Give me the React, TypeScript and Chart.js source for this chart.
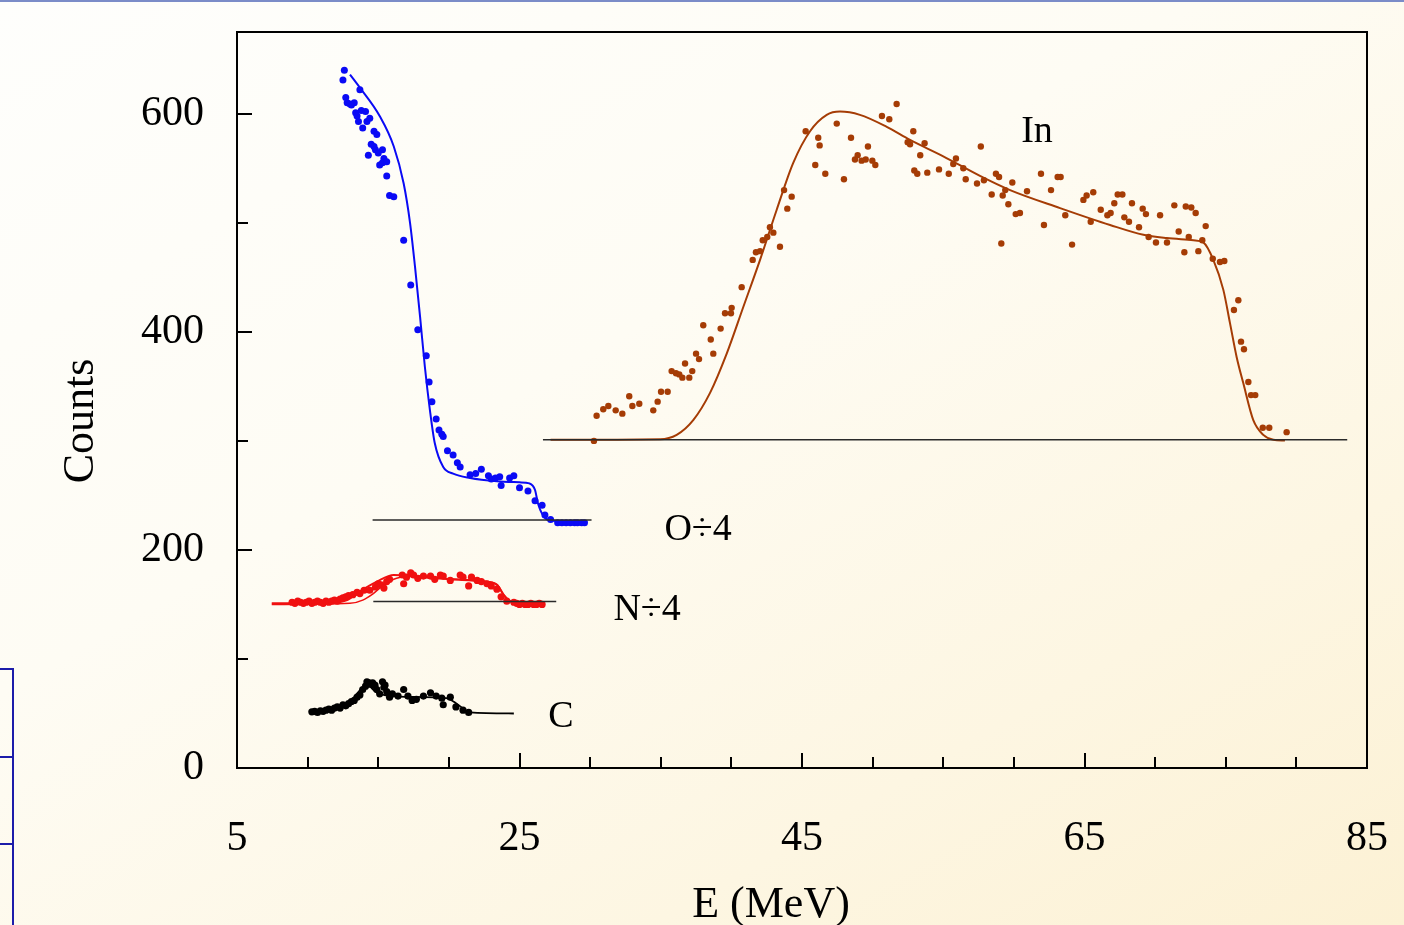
import React, { useEffect, useRef } from "react";
import { Chart, registerables } from "chart.js";

Chart.register(...registerables);

const FONT = "'Liberation Serif', 'Times New Roman', serif";

// ---- axes ----
const xMin = 5;
const xMax = 85;
const xStep = 5;
const xLabelValues = [5, 25, 45, 65, 85];
const yMin = 0;
const yMax = 675;
const yStep = 100;
const yLabelValues = [0, 200, 400, 600];
const xTitle = "E (MeV)";
const yTitle = "Counts";

// ---- series labels ----
const seriesLabels = ["In", "O÷4", "N÷4", "C"];
const seriesLabelE = [61.64, 37.64, 34.03, 27.94];
const seriesLabelCounts = [583, 218.5, 144.5, 46.5];

// ---- O ÷ 4 (blue) ----
const oPtsE = [12.6, 12.5, 12.7, 12.8, 13.0, 13.3, 13.1, 13.7, 13.4, 13.5, 13.8, 14.1, 13.6, 13.9, 14.2, 14.4, 14.7, 14.9, 14.3, 14.5, 14.7, 14.8, 15.0, 15.3, 15.4, 15.1, 15.3, 15.6, 15.6, 15.8, 16.1, 16.8, 17.3, 17.8, 18.4, 18.6, 18.8, 19.1, 19.3, 19.5, 19.6, 19.9, 20.3, 20.6, 20.8, 21.5, 21.9, 22.3, 22.8, 23.0, 23.3, 23.6, 23.7, 24.3, 24.6, 25.0, 25.6, 26.1, 26.6, 26.8, 27.2, 27.7, 28.0, 28.3, 28.6, 28.9, 29.1, 29.4, 29.6];
const oPtsCounts = [640, 631, 615, 610, 609, 610, 608, 622, 601, 598, 603, 602, 593, 587, 593, 596, 584, 581, 562, 572, 570, 567, 564, 567, 559, 553, 555, 556, 543, 525, 524, 484, 443, 402, 378, 354, 336, 320, 310, 306, 304, 291, 287, 280, 276, 269, 270, 274, 268, 265, 266, 267, 259, 266, 268, 257, 254, 245, 241, 232, 228, 225, 225, 225, 225, 225, 225, 225, 225];
const oFitE = [13.0, 13.7, 15.1, 16.1, 16.8, 17.25, 17.6, 17.96, 18.3, 18.66, 19.0, 19.6, 20.3, 21.5, 23.4, 25.0, 25.7, 26.1, 26.3, 26.7, 27.2, 29.8];
const oFitCounts = [636, 624, 598, 570, 536, 500, 460, 414, 368, 328, 298, 276, 270, 266, 263, 262, 261, 255, 243, 231, 227, 226];
const oBaseE = [14.6, 30.1];
const oBaseCounts = [227.5, 227.5];

// ---- N ÷ 4 (red) ----
const nPtsE = [8.9, 9.1, 9.3, 9.5, 9.7, 9.9, 10.1, 10.3, 10.5, 10.7, 10.9, 11.1, 11.3, 11.5, 11.7, 11.9, 12.1, 12.3, 12.5, 12.7, 12.9, 13.2, 13.5, 13.7, 14.0, 14.4, 14.8, 15.0, 15.2, 15.4, 15.6, 15.8, 16.7, 16.8, 17.0, 17.3, 17.5, 17.8, 18.2, 18.7, 19.0, 19.4, 19.6, 20.1, 20.8, 21.0, 21.4, 21.6, 22.0, 22.3, 22.7, 23.0, 23.4, 23.7, 24.1, 24.6, 24.8, 25.0, 25.2, 25.4, 25.6, 25.8, 26.0, 26.2, 26.4, 26.6];
const nPtsCounts = [152, 151, 153, 152, 151, 152, 153, 151, 152, 153, 152, 151, 153, 152, 153, 154, 153, 155, 156, 157, 158, 159, 161, 160, 163, 163, 166, 169, 168, 165, 171, 173, 177, 169, 175, 179, 177, 174, 176, 176, 173, 177, 176, 172, 177, 175, 167, 175, 172, 171, 169, 167, 164, 157, 153, 152, 151, 150, 151, 150, 150, 151, 150, 150, 151, 150];
const nFitAE = [7.46, 12.0, 12.8, 13.7, 14.9, 16.1, 17.7, 20.1, 22.4, 23.4, 23.85, 24.2, 24.6, 26.7];
const nFitACounts = [151, 152, 154, 162, 171, 177, 175.5, 173, 171, 168, 159, 154, 152, 151];
const nFitBE = [7.46, 13.0, 13.9, 14.65, 15.4, 16.3, 17.7, 20.1, 22.4, 23.4, 23.9, 24.3, 24.7, 26.7];
const nFitBCounts = [150, 151, 154, 160, 168, 174, 176, 173.5, 171.5, 168.5, 159, 153.5, 151.5, 150.5];
const nBaseE = [14.65, 27.6];
const nBaseCounts = [152.6, 152.6];

// ---- C (black) ----
const cPtsE = [10.3, 10.5, 10.7, 10.9, 11.1, 11.3, 11.5, 11.7, 11.9, 12.1, 12.3, 12.5, 12.7, 12.9, 13.1, 13.3, 13.5, 13.7, 13.9, 14.1, 14.2, 14.35, 14.4, 14.6, 14.77, 14.7, 14.9, 15.1, 15.3, 15.4, 15.48, 15.6, 15.8, 16.0, 16.4, 16.8, 17.1, 17.4, 17.7, 18.2, 18.7, 19.1, 19.5, 19.6, 20.1, 20.5, 21.0, 21.4];
const cPtsCounts = [51.5, 52, 51, 52.5, 52, 53, 54, 53, 55, 56, 55, 58, 57, 59, 61, 62, 65, 67, 72, 75, 79, 78, 77, 78, 76, 76, 72, 68, 79, 74, 76, 70, 65, 68, 66, 72, 66, 62, 63, 66, 69, 66, 64, 58, 65, 56, 53, 51];
const cFitE = [10.3, 12.0, 13.0, 14.2, 14.9, 16.5, 19.8, 20.55, 21.5, 24.6];
const cFitCounts = [52, 54, 61, 76, 69, 65.5, 64, 59, 51, 50];

// ---- In (brown) ----
const inPtsE = [30.27, 30.46, 30.93, 31.29, 31.81, 32.28, 32.77, 32.99, 33.48, 34.47, 34.78, 35.02, 35.49, 35.77, 36.08, 36.31, 36.53, 36.72, 37.02, 37.23, 37.5, 37.71, 38.01, 38.54, 38.72, 39.24, 39.55, 39.97, 40.02, 40.73, 41.51, 41.74, 42.03, 42.22, 42.54, 42.73, 42.97, 43.44, 43.73, 43.96, 44.27, 45.26, 45.94, 46.15, 46.25, 46.65, 47.46, 47.97, 48.47, 48.75, 48.94, 49.22, 49.51, 49.67, 49.98, 50.19, 50.66, 51.18, 51.7, 52.48, 52.65, 52.88, 52.95, 53.16, 53.37, 53.68, 53.87, 54.7, 55.39, 55.71, 55.9, 56.42, 56.59, 57.39, 57.66, 57.88, 58.43, 58.73, 58.95, 59.11, 59.21, 59.39, 59.61, 59.89, 60.13, 60.43, 60.93, 61.92, 62.13, 62.63, 63.1, 63.31, 63.64, 64.12, 64.92, 65.15, 65.44, 65.62, 66.15, 66.62, 66.85, 67.11, 67.35, 67.68, 67.82, 68.15, 68.36, 68.86, 69.12, 69.35, 69.54, 70.06, 70.35, 70.84, 71.36, 71.67, 72.07, 72.17, 72.38, 72.56, 72.87, 73.06, 73.34, 73.58, 74.08, 74.59, 74.9, 75.58, 75.89, 76.08, 76.29, 76.6, 76.79, 77.09, 77.62, 78.08, 79.31];
const inPtsCounts = [300, 323, 329, 332, 328, 325, 341, 332, 334, 328, 336, 345, 345, 364, 362, 361, 358, 371, 358, 364, 380, 375, 406, 393, 380, 403, 417, 417, 422, 441, 466, 473, 474, 484, 487, 496, 491, 478, 530, 513, 524, 584, 553, 578, 571, 545, 591, 540, 578, 558, 562, 557, 558, 570, 557, 553, 598, 595, 609, 574, 572, 584, 548, 545, 562, 573, 546, 549, 545, 554, 559, 550, 540, 536, 570, 539, 526, 545, 542, 481, 525, 530, 517, 537, 508, 509, 529, 545, 498, 530, 542, 542, 507, 480, 521, 525, 501, 528, 512, 507, 509, 518, 526, 526, 505, 501, 518, 496, 513, 508, 487, 482, 507, 482, 516, 492, 473, 515, 487, 514, 509, 474, 484, 497, 467, 464, 465, 420, 429, 391, 384, 354, 342, 342, 312, 312, 308];
const inFitE = [27.2, 34.95, 36.13, 37.3, 38.49, 39.67, 40.85, 42.03, 43.21, 44.38, 45.57, 46.75, 47.69, 49.1, 51.0, 52.65, 55.0, 57.6, 59.73, 63.27, 66.81, 69.17, 70.82, 72.71, 73.41, 74.12, 74.83, 75.3, 75.77, 76.24, 76.95, 77.66, 78.37, 79.19];
const inFitCounts = [301, 301.5, 305.5, 319, 344, 380, 423, 466, 512, 555, 584, 599, 602, 599, 588, 576, 561, 543, 530, 513.5, 498, 489, 486, 484, 482, 466, 438.5, 408, 377, 353, 319, 305.5, 301, 300.3];
const inBaseE = [26.66, 83.6];
const inBaseCounts = [301, 301];

const pts = (xs: number[], ys: number[]) => xs.map((x, i) => ({ x, y: ys[i] }));

const BLUE = "#0a0af5";
const RED = "#f01010";
const BROWN = "#a53c05";
const BLACK = "#000000";
const BASE = "#2a2a2a";

const pointSet = (data: any, color: string, r: number) => ({
  data,
  showLine: false,
  pointRadius: r,
  pointBorderWidth: 0,
  pointBackgroundColor: color,
  pointBorderColor: color,
});
const lineSet = (data: any, color: string, w: number) => ({
  data,
  showLine: true,
  borderColor: color,
  borderWidth: w,
  pointRadius: 0,
  fill: false,
  cubicInterpolationMode: "monotone",
});

const zeroPadding = (s: any) => {
  s.paddingTop = 0;
  s.paddingBottom = 0;
  s.paddingLeft = 0;
  s.paddingRight = 0;
};

const framePlugin = {
  id: "frameAndText",
  afterDatasetsDraw(chart: any) {
    const { ctx, chartArea: a } = chart;
    const xs = chart.scales.x;
    const ys = chart.scales.y;
    ctx.save();
    ctx.strokeStyle = "#000";
    ctx.lineWidth = 2;
    ctx.strokeRect(a.left, a.top, a.right - a.left, a.bottom - a.top);
    ctx.beginPath();
    xs.ticks.forEach((t: any) => {
      const px = Math.round(xs.getPixelForValue(t.value));
      const len = xLabelValues.includes(t.value) ? 15 : 11;
      ctx.moveTo(px, a.bottom);
      ctx.lineTo(px, a.bottom - len);
    });
    ys.ticks.forEach((t: any) => {
      if (t.value % yStep !== 0) return;
      const py = Math.round(ys.getPixelForValue(t.value));
      const len = yLabelValues.includes(t.value) ? 15 : 11;
      ctx.moveTo(a.left, py);
      ctx.lineTo(a.left + len, py);
    });
    ctx.stroke();

    ctx.fillStyle = "#000";
    ctx.font = `38px ${FONT}`;
    ctx.textAlign = "center";
    ctx.textBaseline = "middle";
    seriesLabels.forEach((s, i) => {
      ctx.fillText(s, xs.getPixelForValue(seriesLabelE[i]), ys.getPixelForValue(seriesLabelCounts[i]));
    });

    ctx.font = `44px ${FONT}`;
    ctx.textBaseline = "alphabetic";
    ctx.fillText(xTitle, 771, 917);
    ctx.translate(93, 421);
    ctx.rotate(-Math.PI / 2);
    ctx.fillText(yTitle, 0, 0);
    ctx.restore();
  },
};

export default function App() {
  const ref = useRef<HTMLCanvasElement>(null);
  useEffect(() => {
    document.body.style.margin = "0";
    const chart = new Chart(ref.current as HTMLCanvasElement, {
      type: "scatter",
      data: {
        datasets: [
          lineSet(pts(oBaseE, oBaseCounts), BASE, 1.5),
          lineSet(pts(nBaseE, nBaseCounts), BASE, 1.5),
          lineSet(pts(inBaseE, inBaseCounts), BASE, 1.5),
          pointSet(pts(oPtsE, oPtsCounts), BLUE, 3.5),
          lineSet(pts(oFitE, oFitCounts), BLUE, 2),
          pointSet(pts(nPtsE, nPtsCounts), RED, 3.6),
          lineSet(pts(nFitAE, nFitACounts), RED, 2),
          lineSet(pts(nFitBE, nFitBCounts), RED, 1.5),
          pointSet(pts(cPtsE, cPtsCounts), BLACK, 3.6),
          lineSet(pts(cFitE, cFitCounts), BLACK, 1.8),
          pointSet(pts(inPtsE, inPtsCounts), BROWN, 3.2),
          lineSet(pts(inFitE, inFitCounts), BROWN, 2),
        ] as any,
      },
      options: {
        responsive: false,
        animation: false,
        devicePixelRatio: 1,
        layout: { autoPadding: false, padding: { top: 32, right: 37, left: 0, bottom: 0 } },
        plugins: { legend: { display: false }, tooltip: { enabled: false } },
        scales: {
          x: {
            type: "linear",
            min: xMin,
            max: xMax,
            grid: { display: false, drawTicks: false },
            border: { display: false },
            ticks: {
              stepSize: xStep,
              autoSkip: false,
              maxRotation: 0,
              padding: 46,
              color: "#000",
              font: { family: FONT, size: 42 },
              callback: (v: any) => (xLabelValues.includes(Number(v)) ? String(v) : ""),
            },
            afterFit: (s: any) => {
              s.height = 157;
              zeroPadding(s);
            },
          },
          y: {
            type: "linear",
            min: yMin,
            max: yMax,
            grid: { display: false, drawTicks: false },
            border: { display: false },
            ticks: {
              stepSize: yStep,
              includeBounds: false,
              autoSkip: false,
              padding: 33,
              color: "#000",
              font: { family: FONT, size: 42 },
              callback: (v: any) => (yLabelValues.includes(Number(v)) ? String(v) : ""),
            },
            afterFit: (s: any) => {
              s.width = 237;
              zeroPadding(s);
            },
          },
        },
      } as any,
      plugins: [framePlugin],
    });
    return () => chart.destroy();
  }, []);

  return (
    <div
      style={{
        position: "relative",
        width: 1404,
        height: 925,
        overflow: "hidden",
        background: "linear-gradient(150deg, #fefefc 0%, #fefcf4 40%, #fdf6e2 75%, #fcf1d4 100%)",
      }}
    >
      <canvas ref={ref} width={1404} height={925} style={{ position: "absolute", left: 0, top: 0 }} />
      <div style={{ position: "absolute", left: 0, top: 0, width: 1404, height: 2, background: "#7b8cc8" }} />
      <div
        style={{
          position: "absolute",
          left: -4,
          top: 668,
          width: 14,
          height: 300,
          border: "2px solid #1c1caa",
        }}
      />
      <div style={{ position: "absolute", left: 0, top: 756, width: 12, height: 2, background: "#1c1caa" }} />
      <div style={{ position: "absolute", left: 0, top: 843, width: 12, height: 2, background: "#1c1caa" }} />
    </div>
  );
}
